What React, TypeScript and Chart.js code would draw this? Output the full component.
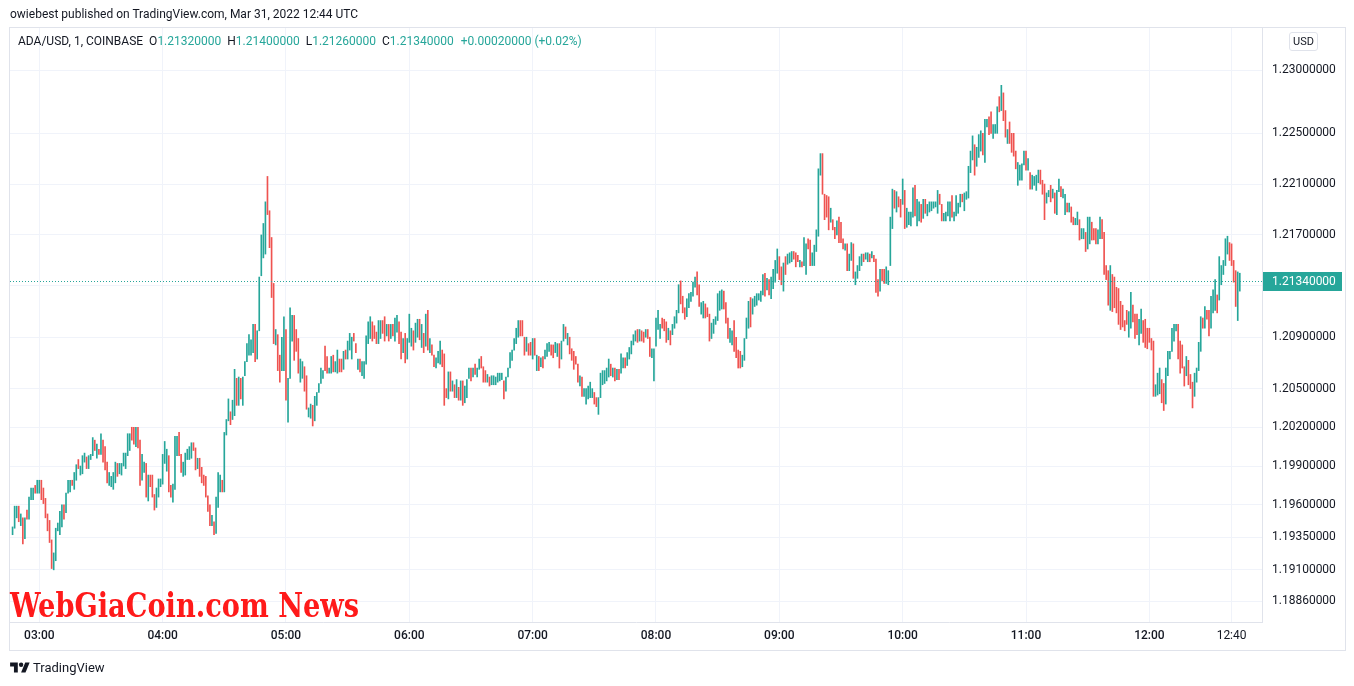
import React, { useEffect, useRef } from "react";
import { Chart, registerables } from "chart.js";

Chart.register(...registerables);

const UP_COLOR = "#26a69a";
const DOWN_COLOR = "#ef5350";
const TEXT_COLOR = "#131722";
const GRID_COLOR = "#f0f3fa";
const BORDER_COLOR = "#e0e3eb";
const FONT = "Roboto, 'Liberation Sans', sans-serif";

// first bar opens at 02:47 UTC, one bar per minute
const FIRST_BAR_MINUTE = 2 * 60 + 47;

// each bar: [low, high, closedUp (1) / closedDown (0)]
const priceBars: [number, number, number][] = [
  [1.1937,1.1943,1],[1.1942,1.1959,1],[1.1950,1.1959,1],[1.1947,1.1959,0],[1.1944,1.1953,1],[1.1930,1.1950,0],[1.1934,1.1950,1],[1.1949,1.1956,0],[1.1949,1.1966,1],[1.1964,1.1973,1],
  [1.1964,1.1973,1],[1.1969,1.1975,0],[1.1969,1.1979,1],[1.1969,1.1979,1],[1.1964,1.1979,0],[1.1961,1.1973,0],[1.1950,1.1965,0],[1.1940,1.1953,0],[1.1931,1.1948,0],[1.1911,1.1933,0],
  [1.1910,1.1923,1],[1.1917,1.1942,1],[1.1940,1.1946,1],[1.1937,1.1955,1],[1.1943,1.1960,1],[1.1949,1.1960,0],[1.1954,1.1969,1],[1.1969,1.1979,1],[1.1970,1.1979,1],[1.1975,1.1979,0],
  [1.1972,1.1985,1],[1.1979,1.1991,1],[1.1988,1.1995,0],[1.1983,1.1990,1],[1.1984,1.1998,1],[1.1993,1.2000,1],[1.1988,1.1997,0],[1.1988,1.1998,1],[1.1995,1.1999,1],[1.1998,1.2012,1],
  [1.2002,1.2010,0],[1.1996,1.2007,1],[1.1999,1.2003,0],[1.1999,1.2015,1],[1.1993,1.2010,0],[1.1987,1.2005,0],[1.1977,1.1993,0],[1.1975,1.1985,1],[1.1974,1.1982,1],[1.1972,1.1985,1],
  [1.1977,1.1993,1],[1.1982,1.1992,0],[1.1984,1.1992,1],[1.1983,1.1992,1],[1.1990,1.2000,1],[1.1988,1.2000,1],[1.1998,1.2015,1],[1.2002,1.2015,1],[1.2010,1.2020,0],[1.2007,1.2020,0],
  [1.2005,1.2020,1],[1.2004,1.2020,0],[1.1975,1.2010,0],[1.1979,1.1999,1],[1.1985,1.1993,1],[1.1966,1.1992,0],[1.1963,1.1983,1],[1.1974,1.1983,0],[1.1966,1.1983,0],[1.1956,1.1968,0],
  [1.1958,1.1973,1],[1.1966,1.1980,1],[1.1974,1.1980,1],[1.1976,1.1999,1],[1.1992,1.2009,1],[1.1986,1.2003,1],[1.1970,1.1998,0],[1.1966,1.1975,0],[1.1962,1.1976,1],[1.1972,1.2013,1],
  [1.1998,1.2013,1],[1.1998,1.2016,0],[1.1985,1.1999,0],[1.1982,1.1993,1],[1.1983,1.2000,1],[1.1995,1.2003,1],[1.1995,1.2005,1],[1.1996,1.2008,1],[1.2002,1.2008,0],[1.1987,1.2004,0],
  [1.1988,1.1996,1],[1.1982,1.1996,0],[1.1977,1.1989,0],[1.1975,1.1983,0],[1.1966,1.1982,0],[1.1955,1.1967,0],[1.1944,1.1960,0],[1.1944,1.1952,1],[1.1937,1.1947,0],[1.1938,1.1966,1],
  [1.1958,1.1985,1],[1.1970,1.1983,1],[1.1970,1.1979,0],[1.1970,1.2016,1],[1.2014,1.2026,1],[1.2025,1.2042,1],[1.2022,1.2032,0],[1.2026,1.2041,1],
  [1.2029,1.2065,1],[1.2037,1.2058,0],[1.2037,1.2059,1],[1.2042,1.2058,0],[1.2037,1.2059,1],[1.2060,1.2071,1],[1.2071,1.2085,1],[1.2076,1.2092,1],[1.2076,1.2088,1],[1.2078,1.2100,1],
  [1.2071,1.2100,0],[1.2073,1.2095,1],[1.2095,1.2137,1],[1.2138,1.2170,1],[1.2152,1.2179,1],[1.2155,1.2196,1],[1.2186,1.2216,0],[1.2160,1.2189,0],[1.2121,1.2168,0],[1.2085,1.2132,0],
  [1.2084,1.2096,1],[1.2064,1.2092,0],[1.2055,1.2076,0],[1.2064,1.2090,1],[1.2064,1.2106,1],[1.2041,1.2096,0],[1.2024,1.2058,1],[1.2058,1.2113,1],[1.2087,1.2107,1],[1.2072,1.2107,0],
  [1.2079,1.2096,0],[1.2062,1.2089,0],[1.2055,1.2073,1],[1.2058,1.2071,1],[1.2048,1.2067,0],[1.2034,1.2060,0],[1.2028,1.2035,1],[1.2027,1.2038,1],[1.2021,1.2037,0],[1.2025,1.2044,1],
  [1.2037,1.2047,1],[1.2047,1.2054,1],[1.2054,1.2066,1],[1.2058,1.2064,1],[1.2064,1.2083,0],[1.2062,1.2075,0],[1.2062,1.2066,1],[1.2062,1.2075,1],[1.2063,1.2076,0],[1.2063,1.2071,1],
  [1.2062,1.2080,1],[1.2063,1.2073,0],[1.2063,1.2073,0],[1.2065,1.2079,1],[1.2073,1.2080,0],[1.2073,1.2087,1],[1.2080,1.2093,1],[1.2073,1.2090,1],[1.2087,1.2093,0],[1.2078,1.2085,0],
  [1.2065,1.2073,1],[1.2063,1.2073,0],[1.2060,1.2071,1],[1.2058,1.2071,1],[1.2069,1.2091,1],[1.2085,1.2102,1],[1.2089,1.2106,1],[1.2087,1.2102,0],[1.2089,1.2099,0],[1.2085,1.2094,0],
  [1.2085,1.2103,1],[1.2089,1.2103,1],[1.2093,1.2103,0],[1.2087,1.2106,0],[1.2091,1.2100,1],[1.2087,1.2100,0],[1.2089,1.2100,1],[1.2091,1.2100,0],[1.2087,1.2105,1],[1.2094,1.2107,1],
  [1.2085,1.2102,0],[1.2073,1.2094,0],[1.2078,1.2089,1],[1.2070,1.2093,0],[1.2073,1.2089,1],[1.2086,1.2108,1],[1.2083,1.2097,1],[1.2080,1.2095,0],[1.2086,1.2101,1],[1.2090,1.2104,1],[1.2088,1.2104,0],[1.2082,1.2100,1],
  [1.2078,1.2093,0],[1.2083,1.2108,1],[1.2080,1.2111,0],[1.2078,1.2089,1],[1.2076,1.2084,0],[1.2067,1.2076,0],[1.2066,1.2074,1],[1.2070,1.2079,1],[1.2069,1.2087,1],[1.2067,1.2080,0],
  [1.2037,1.2077,0],[1.2043,1.2050,0],[1.2042,1.2063,1],[1.2048,1.2063,0],[1.2048,1.2056,1],[1.2043,1.2053,0],[1.2043,1.2057,1],[1.2041,1.2051,0],[1.2041,1.2056,1],[1.2037,1.2056,0],
  [1.2039,1.2052,1],[1.2043,1.2057,1],[1.2058,1.2066,1],[1.2056,1.2066,0],[1.2059,1.2066,1],[1.2061,1.2069,0],[1.2059,1.2066,1],[1.2065,1.2073,1],[1.2066,1.2075,0],[1.2055,1.2067,0],
  [1.2055,1.2064,0],[1.2055,1.2061,1],[1.2052,1.2059,0],[1.2053,1.2060,1],[1.2053,1.2060,1],[1.2053,1.2059,1],[1.2055,1.2062,1],[1.2056,1.2062,1],[1.2057,1.2062,1],[1.2042,1.2056,0],
  [1.2048,1.2059,1],[1.2059,1.2066,1],[1.2066,1.2078,1],[1.2072,1.2080,1],[1.2080,1.2089,1],[1.2085,1.2097,1],[1.2090,1.2103,1],[1.2091,1.2103,0],[1.2091,1.2103,0],[1.2076,1.2090,0],
  [1.2079,1.2090,1],[1.2076,1.2085,0],[1.2076,1.2086,0],[1.2073,1.2089,1],[1.2076,1.2089,0],[1.2064,1.2076,1],[1.2064,1.2075,0],[1.2067,1.2074,1],[1.2066,1.2075,0],[1.2073,1.2080,1],
  [1.2075,1.2085,1],[1.2079,1.2086,1],[1.2076,1.2084,0],[1.2074,1.2084,0],[1.2078,1.2086,1],[1.2075,1.2085,1],[1.2066,1.2085,0],
  [1.2073,1.2087,1],[1.2087,1.2100,1],[1.2089,1.2098,0],[1.2084,1.2093,1],[1.2077,1.2090,0],[1.2072,1.2081,0],[1.2065,1.2079,0],[1.2069,1.2075,0],[1.2055,1.2069,0],[1.2052,1.2060,1],
  [1.2044,1.2059,0],[1.2044,1.2050,1],[1.2038,1.2050,1],[1.2042,1.2052,1],[1.2043,1.2055,1],[1.2043,1.2050,1],[1.2038,1.2047,0],[1.2036,1.2043,0],[1.2030,1.2043,1],[1.2043,1.2062,1],
  [1.2053,1.2064,1],[1.2054,1.2064,1],[1.2056,1.2066,1],[1.2059,1.2073,1],[1.2060,1.2069,0],[1.2059,1.2066,1],[1.2056,1.2066,0],[1.2057,1.2065,1],[1.2057,1.2065,0],[1.2062,1.2077,1],
  [1.2066,1.2074,1],[1.2066,1.2074,0],[1.2068,1.2078,1],[1.2073,1.2082,1],[1.2077,1.2087,1],[1.2084,1.2092,1],[1.2087,1.2095,1],[1.2086,1.2096,0],[1.2087,1.2096,1],[1.2087,1.2095,0],
  [1.2086,1.2094,0],[1.2090,1.2096,1],[1.2089,1.2096,0],[1.2075,1.2090,0],[1.2074,1.2081,1],[1.2056,1.2081,1],[1.2083,1.2105,1],[1.2096,1.2111,1],[1.2089,1.2100,1],[1.2097,1.2105,0],
  [1.2095,1.2104,0],[1.2086,1.2102,0],[1.2088,1.2097,1],[1.2084,1.2095,0],[1.2092,1.2100,1],[1.2097,1.2106,1],[1.2101,1.2111,1],[1.2109,1.2131,1],[1.2116,1.2134,0],[1.2109,1.2122,0],
  [1.2104,1.2113,0],[1.2106,1.2120,1],[1.2113,1.2124,1],[1.2118,1.2125,1],[1.2122,1.2133,1],
  [1.2129,1.2137,1],[1.2123,1.2141,0],[1.2114,1.2131,0],[1.2108,1.2117,1],[1.2105,1.2118,1],[1.2105,1.2116,0],[1.2106,1.2113,0],[1.2087,1.2108,0],[1.2089,1.2101,1],[1.2093,1.2104,1],
  [1.2100,1.2106,1],[1.2103,1.2124,1],[1.2111,1.2126,1],[1.2112,1.2127,1],[1.2112,1.2126,0],[1.2101,1.2117,0],[1.2089,1.2105,0],[1.2086,1.2097,1],[1.2084,1.2095,1],[1.2079,1.2103,0],
  [1.2074,1.2090,0],[1.2066,1.2080,0],[1.2066,1.2079,0],[1.2067,1.2076,1],[1.2072,1.2089,1],[1.2089,1.2105,1],[1.2097,1.2118,1],[1.2098,1.2121,0],[1.2108,1.2120,1],[1.2114,1.2122,1],
  [1.2115,1.2124,1],[1.2119,1.2124,1],[1.2118,1.2126,1],[1.2123,1.2139,1],[1.2122,1.2140,0],[1.2127,1.2136,1],[1.2123,1.2135,0],[1.2120,1.2137,1],[1.2128,1.2143,1],[1.2133,1.2150,1],
  [1.2140,1.2159,1],[1.2135,1.2153,0],[1.2131,1.2145,0],[1.2126,1.2148,1],[1.2139,1.2153,0],[1.2147,1.2155,1],[1.2148,1.2156,1],[1.2149,1.2157,1],[1.2151,1.2157,0],[1.2145,1.2156,0],
  [1.2149,1.2154,0],[1.2145,1.2150,1],[1.2145,1.2149,0],[1.2146,1.2168,1],[1.2139,1.2163,1],[1.2159,1.2167,0],[1.2146,1.2166,0],[1.2146,1.2156,1],[1.2146,1.2162,1],[1.2157,1.2174,1],
  [1.2169,1.2222,1],[1.2217,1.2234,1],[1.2202,1.2234,0],[1.2182,1.2202,0],[1.2184,1.2201,0],
  [1.2174,1.2200,0],[1.2180,1.2191,1],[1.2174,1.2182,0],[1.2167,1.2176,0],[1.2170,1.2181,1],[1.2164,1.2184,0],[1.2164,1.2180,0],[1.2159,1.2167,0],[1.2158,1.2163,1],[1.2142,1.2163,0],
  [1.2142,1.2155,1],[1.2150,1.2164,1],[1.2136,1.2163,0],[1.2131,1.2141,1],[1.2136,1.2146,1],[1.2142,1.2153,1],[1.2146,1.2155,1],[1.2149,1.2155,0],[1.2151,1.2156,1],[1.2149,1.2156,1],
  [1.2149,1.2155,0],[1.2152,1.2157,1],[1.2149,1.2154,0],[1.2125,1.2151,0],[1.2122,1.2135,0],[1.2126,1.2143,1],[1.2134,1.2143,0],[1.2132,1.2143,0],[1.2132,1.2145,1],[1.2131,1.2142,1],
  [1.2146,1.2184,1],[1.2175,1.2206,1],[1.2191,1.2205,0],[1.2188,1.2204,1],[1.2192,1.2200,0],[1.2184,1.2198,0],[1.2194,1.2214,1],[1.2175,1.2205,0],[1.2176,1.2191,1],[1.2178,1.2188,1],
  [1.2177,1.2188,1],[1.2184,1.2207,1],[1.2185,1.2209,0],[1.2177,1.2198,1],[1.2181,1.2196,1],[1.2180,1.2194,0],[1.2183,1.2198,1],[1.2187,1.2198,0],[1.2185,1.2194,1],[1.2188,1.2196,1],
  [1.2189,1.2196,1],[1.2191,1.2196,1],[1.2192,1.2196,1],[1.2187,1.2205,1],[1.2194,1.2202,0],[1.2181,1.2194,0],[1.2181,1.2187,1],[1.2181,1.2188,1],[1.2185,1.2196,1],[1.2181,1.2196,1],
  [1.2184,1.2201,0],[1.2181,1.2188,1],[1.2185,1.2201,1],
  [1.2187,1.2195,1],[1.2192,1.2202,1],[1.2196,1.2202,0],[1.2189,1.2203,1],[1.2198,1.2204,1],[1.2199,1.2224,1],[1.2219,1.2236,1],[1.2229,1.2248,1],[1.2217,1.2241,0],[1.2224,1.2239,1],
  [1.2231,1.2249,1],[1.2236,1.2252,1],[1.2233,1.2250,0],[1.2227,1.2261,1],[1.2255,1.2261,1],[1.2249,1.2263,0],[1.2250,1.2267,0],[1.2246,1.2257,1],[1.2250,1.2257,1],[1.2250,1.2271,1],
  [1.2267,1.2279,0],[1.2268,1.2288,1],[1.2260,1.2282,0],[1.2247,1.2268,0],[1.2242,1.2253,1],[1.2242,1.2259,0],[1.2235,1.2250,0],[1.2232,1.2250,0],[1.2222,1.2236,0],[1.2209,1.2227,1],
  [1.2213,1.2225,1],[1.2213,1.2226,1],[1.2225,1.2236,1],[1.2221,1.2236,0],[1.2221,1.2230,1],[1.2206,1.2219,0],[1.2206,1.2217,1],[1.2209,1.2216,1],[1.2205,1.2217,1],[1.2211,1.2221,1],
  [1.2210,1.2221,0],[1.2202,1.2213,0],[1.2182,1.2210,0],[1.2195,1.2203,1],[1.2200,1.2205,1],[1.2196,1.2209,0],[1.2199,1.2206,1],[1.2187,1.2203,0],[1.2186,1.2205,1],[1.2204,1.2214,1],
  [1.2200,1.2208,0],[1.2199,1.2206,1],[1.2186,1.2202,1],[1.2188,1.2195,0],[1.2188,1.2195,1],[1.2180,1.2192,0],[1.2178,1.2184,0],[1.2178,1.2183,1],[1.2178,1.2188,1],[1.2166,1.2182,0],
  [1.2167,1.2175,1],[1.2167,1.2175,1],[1.2157,1.2172,0],[1.2159,1.2184,1],[1.2163,1.2184,1],[1.2166,1.2180,0],[1.2166,1.2175,0],[1.2163,1.2175,0],[1.2163,1.2174,1],[1.2167,1.2184,1],[1.2167,1.2182,0],
  [1.2139,1.2172,0],[1.2135,1.2146,0],[1.2115,1.2142,0],[1.2111,1.2146,1],[1.2110,1.2139,0],[1.2113,1.2137,0],[1.2109,1.2129,0],[1.2100,1.2128,0],[1.2096,1.2118,0],[1.2098,1.2115,0],
  [1.2095,1.2103,0],[1.2100,1.2111,0],[1.2090,1.2110,1],[1.2097,1.2125,1],[1.2102,1.2115,0],[1.2089,1.2108,0],[1.2092,1.2108,0],[1.2084,1.2104,1],[1.2093,1.2112,1],[1.2086,1.2103,0],
  [1.2082,1.2104,0],[1.2081,1.2097,0],[1.2086,1.2097,0],[1.2080,1.2089,0],[1.2044,1.2087,0],[1.2044,1.2053,1],[1.2045,1.2062,1],[1.2046,1.2066,1],[1.2039,1.2057,0],[1.2033,1.2054,0],
  [1.2038,1.2066,1],[1.2060,1.2079,1],[1.2073,1.2079,1],[1.2079,1.2097,1],[1.2087,1.2100,1],[1.2095,1.2100,1],[1.2073,1.2100,0],[1.2062,1.2087,0],[1.2066,1.2084,0],[1.2052,1.2067,0],
  [1.2060,1.2075,1],[1.2053,1.2072,0],[1.2050,1.2061,0],[1.2035,1.2055,0],[1.2044,1.2062,1],[1.2055,1.2066,1],[1.2064,1.2086,1],[1.2079,1.2106,1],[1.2097,1.2105,0],[1.2097,1.2114,1],
  [1.2104,1.2111,0],[1.2091,1.2111,0],[1.2097,1.2122,1],[1.2109,1.2127,1],[1.2111,1.2135,1],[1.2109,1.2123,0],[1.2119,1.2153,1],[1.2131,1.2146,1],[1.2139,1.2150,1],[1.2146,1.2167,1],
  [1.2155,1.2169,1],[1.2150,1.2164,0],[1.2146,1.2163,0],[1.2133,1.2150,0],[1.2114,1.2142,0],[1.2103,1.2141,1],[1.2126,1.2140,1],
];

// axis ticks (minutes since 00:00 UTC) and price ticks
const timeTicks = [180, 240, 300, 360, 420, 480, 540, 600, 660, 720, 760];
const priceTicks = [1.23, 1.225, 1.221, 1.217, 1.213, 1.209, 1.205, 1.202, 1.199, 1.196, 1.1935, 1.191, 1.1886];
const timeRange = [165.75, 774.8];
const priceRange = [1.18729, 1.23335];

// last bar legend
const legendLabels = ["O", "H", "L", "C"];
const legendValues = [1.2132, 1.214, 1.2126, 1.2134];
const legendChange = ["+0.00020000", "(+0.02%)"];
const lastPrice = 1.2134;

const fmtTime = (m: number) =>
  `${String(Math.floor(m / 60)).padStart(2, "0")}:${String(Math.round(m % 60)).padStart(2, "0")}`;

const decorPlugin = {
  id: "tvDecor",
  beforeDraw(chart: any) {
    const { ctx, width, height } = chart;
    ctx.save();
    ctx.fillStyle = "#ffffff";
    ctx.fillRect(0, 0, width, height);
    ctx.restore();
  },
  afterDatasetsDraw(chart: any) {
    const { ctx, chartArea, scales } = chart;
    const y = Math.round(scales.y.getPixelForValue(lastPrice)) + 0.5;
    ctx.save();
    ctx.strokeStyle = UP_COLOR;
    ctx.lineWidth = 1;
    ctx.setLineDash([1, 2]);
    ctx.beginPath();
    ctx.moveTo(chartArea.left, y);
    ctx.lineTo(chartArea.right, y);
    ctx.stroke();
    ctx.restore();
  },
  afterDraw(chart: any) {
    const { ctx, chartArea, scales } = chart;
    const y = Math.round(scales.y.getPixelForValue(lastPrice));
    ctx.save();
    ctx.fillStyle = UP_COLOR;
    ctx.fillRect(chartArea.right + 1, y - 9, 79, 19);
    ctx.fillStyle = "#ffffff";
    ctx.font = `12px ${FONT}`;
    ctx.textBaseline = "middle";
    ctx.textAlign = "left";
    ctx.fillText(lastPrice.toFixed(8), chartArea.right + 10, y + 0.5);
    ctx.strokeStyle = BORDER_COLOR;
    ctx.lineWidth = 1;
    ctx.strokeRect(9.5, 27.5, 1336, 623);
    ctx.restore();
  },
};

export default function App() {
  const canvasRef = useRef<HTMLCanvasElement>(null);

  useEffect(() => {
    const canvas = canvasRef.current;
    if (!canvas) return;
    const data = priceBars.map((b, i) => ({ x: FIRST_BAR_MINUTE + i, y: [b[0], b[1]] }));
    const colors = priceBars.map((b) => (b[2] ? UP_COLOR : DOWN_COLOR));
    const chart = new Chart(canvas, {
      type: "bar",
      data: {
        datasets: [
          {
            data: data as any,
            backgroundColor: colors,
            borderWidth: 0,
            barThickness: 1,
            grouped: false,
          } as any,
        ],
      },
      options: {
        responsive: false,
        animation: false,
        devicePixelRatio: 1,
        layout: { padding: { left: 10, right: 9, top: 28, bottom: 36 } },
        plugins: { legend: { display: false }, tooltip: { enabled: false } },
        scales: {
          x: {
            type: "linear",
            min: timeRange[0],
            max: timeRange[1],
            offset: false,
            grid: { color: GRID_COLOR, drawTicks: false, offset: false },
            border: { display: true, color: BORDER_COLOR },
            afterBuildTicks: (s: any) => {
              s.ticks = timeTicks.map((v) => ({ value: v }));
            },
            afterFit: (s: any) => {
              s.height = 28;
            },
            ticks: {
              autoSkip: false,
              maxRotation: 0,
              padding: 7,
              color: TEXT_COLOR,
              font: (c: any) => ({
                family: FONT,
                size: 12,
                weight: c.tick && c.tick.value % 60 === 0 ? "500" : "normal",
              }),
              callback: (v: any) => fmtTime(Number(v)),
            },
          },
          y: {
            type: "logarithmic",
            position: "right",
            min: priceRange[0],
            max: priceRange[1],
            grid: { color: GRID_COLOR, drawTicks: false },
            border: { display: true, color: BORDER_COLOR },
            afterBuildTicks: (s: any) => {
              s.ticks = priceTicks.map((v) => ({ value: v }));
            },
            afterFit: (s: any) => {
              s.width = 83;
            },
            ticks: {
              autoSkip: false,
              padding: 10,
              color: TEXT_COLOR,
              font: { family: FONT, size: 12 },
              callback: (v: any) => Number(v).toFixed(8),
            },
          },
        },
      } as any,
      plugins: [decorPlugin],
    });
    return () => chart.destroy();
  }, []);

  return (
    <div
      style={{
        position: "fixed",
        left: 0,
        top: 0,
        width: 1354,
        height: 686,
        background: "#fff",
        overflow: "hidden",
        fontFamily: FONT,
        color: TEXT_COLOR,
      }}
    >
      <canvas
        ref={canvasRef}
        width={1354}
        height={686}
        style={{ position: "absolute", left: 0, top: 0, width: 1354, height: 686 }}
      />
      <div style={{ position: "absolute", left: 10, top: 6, fontSize: 12, lineHeight: "16px", whiteSpace: "nowrap" }}>
        owiebest published on TradingView.com, Mar 31, 2022 12:44 UTC
      </div>
      <div style={{ position: "absolute", left: 18, top: 34, fontSize: 12, lineHeight: "14px", whiteSpace: "nowrap" }}>
        <span>ADA/USD, 1, COINBASE</span>
        {legendLabels.map((l, i) => (
          <span key={l} style={{ marginLeft: 6 }}>
            {l}
            <span style={{ color: UP_COLOR }}>{legendValues[i].toFixed(8)}</span>
          </span>
        ))}
        <span style={{ marginLeft: 7, color: UP_COLOR }}>
          {legendChange[0]} {legendChange[1]}
        </span>
      </div>
      <div
        style={{
          position: "absolute",
          left: 1289,
          top: 32,
          width: 27,
          height: 17,
          border: `1px solid ${BORDER_COLOR}`,
          borderRadius: 3,
          fontSize: 11,
          lineHeight: "17px",
          textAlign: "center",
          boxSizing: "content-box",
        }}
      >
        USD
      </div>
      <div
        style={{
          position: "absolute",
          left: 10,
          top: 585,
          fontFamily: '"DejaVu Serif Condensed", "DejaVu Serif", serif',
          fontWeight: 700,
          fontStretch: "condensed",
          fontSize: 34,
          lineHeight: "40px",
          color: "#ff1a1a",
          whiteSpace: "nowrap",
          transform: "scaleX(0.89)",
          transformOrigin: "left top",
        }}
      >
        WebGiaCoin.com News
      </div>
      <svg
        width="20"
        height="11"
        viewBox="0 3 36 20"
        style={{ position: "absolute", left: 10, top: 662 }}
      >
        <path d="M14 22H7V11H0V4h14v18z" fill={TEXT_COLOR} />
        <circle cx="20" cy="8" r="4" fill={TEXT_COLOR} />
        <path d="M28 22h-8l7.5-18h8L28 22z" fill={TEXT_COLOR} />
      </svg>
      <div style={{ position: "absolute", left: 33, top: 660, fontSize: 13, lineHeight: "16px", whiteSpace: "nowrap" }}>
        TradingView
      </div>
    </div>
  );
}
